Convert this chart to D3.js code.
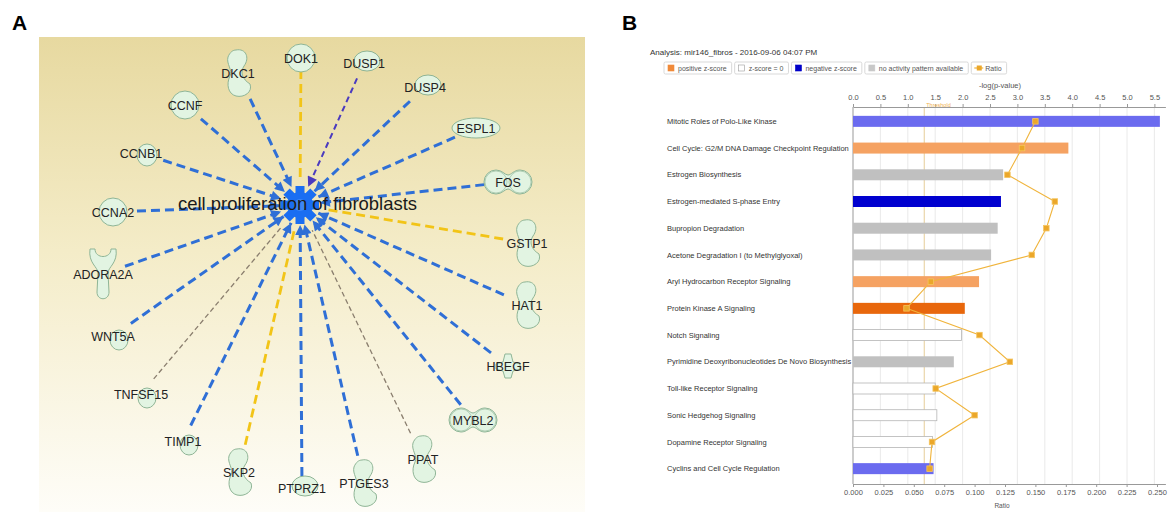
<!DOCTYPE html>
<html><head><meta charset="utf-8">
<script src="https://cdn.jsdelivr.net/npm/d3@7"></script>
<style>
body{margin:0;background:#fff;}
svg{display:block;font-family:"Liberation Sans",Arial,sans-serif;}
</style>
</head><body>
<svg id="c" width="1174" height="520"></svg>
<script>
// ---------------- Panel A data (network) ----------------
const genes = ["DKC1","DOK1","DUSP1","DUSP4","CCNF","ESPL1","CCNB1","FOS","CCNA2","GSTP1","ADORA2A",
               "HAT1","WNT5A","HBEGF","TNFSF15","MYBL2","TIMP1","SKP2","PPAT","PTPRZ1","PTGES3"];
const geneType = ["enzyme","other","phosphatase","phosphatase","other","peptidase","kinase","transcription","other","enzyme","gpcr",
                  "enzyme","cytokine","growth","cytokine","transcription","cytokine","enzyme","enzyme","phosphatase","enzyme"];
const relation = ["inhibition","inconsistent","mixed","inhibition","inhibition","inhibition","inhibition","inhibition","inhibition","inconsistent","inhibition",
                  "inhibition","inhibition","inhibition","notPredicted","inhibition","inhibition","inconsistent","notPredicted","inhibition","inhibition"];
const centralFunction = "cell proliferation of fibroblasts";
// layout table for the radial network (label offsets from the hub)
const layout = [[-62,-132],[1,-147],[64,-142],[125,-118],[-115,-100],[176,-77],[-159,-52],[208,-23],[-187,7],[227,38],[-197,69],
                [227,100],[-187,131],[208,161],[-159,189],[173,215],[-117,236],[-61,267],[123,254],[2,283],[64,278]];

// ---------------- Panel B data (canonical pathways) ----------------
const pathways = ["Mitotic Roles of Polo-Like Kinase","Cell Cycle: G2/M DNA Damage Checkpoint Regulation","Estrogen Biosynthesis",
  "Estrogen-mediated S-phase Entry","Bupropion Degradation","Acetone Degradation I (to Methylglyoxal)","Aryl Hydrocarbon Receptor Signaling",
  "Protein Kinase A Signaling","Notch Signaling","Pyrimidine Deoxyribonucleotides De Novo Biosynthesis I","Toll-like Receptor Signaling",
  "Sonic Hedgehog Signaling","Dopamine Receptor Signaling","Cyclins and Cell Cycle Regulation"];
const negLogP = [5.60,3.93,2.74,2.70,2.64,2.52,2.30,2.04,1.98,1.84,1.50,1.53,1.45,1.47];
const ratio   = [0.150,0.139,0.127,0.166,0.159,0.147,0.064,0.044,0.104,0.129,0.068,0.100,0.065,0.063];
const zScore  = [-1.0,1.0,null,-2.4,null,null,0.8,2.2,0,null,0,0,0,-1.0];
const pTicks = [0,0.5,1,1.5,2,2.5,3,3.5,4,4.5,5,5.5];
const rTicks = [0,0.025,0.05,0.075,0.1,0.125,0.15,0.175,0.2,0.225,0.25];
const threshold = 1.3;
const legendLabels = ["positive z-score","z-score = 0","negative z-score","no activity pattern available","Ratio"];
const analysisTitle = "Analysis: mir146_fibros - 2016-09-06 04:07 PM";

const svg = d3.select("#c");
const defs = svg.append("defs");

// panel letters
svg.append("text").attr("x",12).attr("y",30).attr("font-size",21).attr("font-weight","bold").attr("fill","#000").text("A");
svg.append("text").attr("x",622).attr("y",30).attr("font-size",21).attr("font-weight","bold").attr("fill","#000").text("B");

// ================= PANEL A =================
const grad = defs.append("linearGradient").attr("id","bg").attr("x1",0).attr("y1",0).attr("x2",0).attr("y2",1);
grad.append("stop").attr("offset",0).attr("stop-color","#e7d9a0");
grad.append("stop").attr("offset",0.45).attr("stop-color","#f4ecc8");
grad.append("stop").attr("offset",1).attr("stop-color","#fefdf8");
const gA = svg.append("g");
gA.append("rect").attr("x",39).attr("y",37).attr("width",546).attr("height",475).attr("fill","url(#bg)");

const relColor = {inhibition:"#2f6fd6", inconsistent:"#f2c417", notPredicted:"#8a7e6e", mixed:"#4a3abf"};
const relWidth = {inhibition:3, inconsistent:2.8, notPredicted:1.3, mixed:2};
const relDash  = {inhibition:"9,5", inconsistent:"9,5", notPredicted:"5,3", mixed:"6,4"};
function mkMarker(id,color){
  defs.append("marker").attr("id",id).attr("viewBox","0 0 10 10").attr("refX",10).attr("refY",5)
    .attr("markerWidth",11).attr("markerHeight",10).attr("markerUnits","userSpaceOnUse").attr("orient","auto")
    .append("path").attr("d","M0,0L10,5L0,10Z").attr("fill",color);
}
mkMarker("arBlue",relColor.inhibition);
mkMarker("arPurple",relColor.mixed);

const hubX = d3.scaleLinear().domain([-300,300]).range([0,600]);
const hubY = d3.scaleLinear().domain([-300,300]).range([-95,505]);
const nodes = genes.map((g,i)=>{
  const dx = layout[i][0], dy = layout[i][1];
  const len = Math.hypot(dx,dy), c = Math.abs(dx/len), s = Math.abs(dy/len);
  const d = 12 + 12*c + (geneType[i]==="enzyme" ? 14*s*s : 0);
  const endR = relation[i]==="notPredicted" ? 28 : (relation[i]==="inconsistent" ? 24 : 20);
  return {name:g, type:geneType[i], rel:relation[i],
    x:hubX(dx), y:hubY(dy),
    sx:hubX(dx - dx/len*d), sy:hubY(dy - dy/len*d),
    ex:hubX(dx/len*endR), ey:hubY(dy/len*endR)};
});
const hx = hubX(0), hy = hubY(0);

// edges
gA.append("g").selectAll("line").data(nodes).join("line")
  .attr("x1",d=>d.sx).attr("y1",d=>d.sy).attr("x2",d=>d.ex).attr("y2",d=>d.ey)
  .attr("stroke",d=>relColor[d.rel]).attr("stroke-width",d=>relWidth[d.rel])
  .attr("stroke-dasharray",d=>relDash[d.rel])
  .attr("marker-end",d=>d.rel==="inhibition"?"url(#arBlue)":(d.rel==="mixed"?"url(#arPurple)":null));

// hub gear
const hub = gA.append("g").attr("transform",`translate(${hx},${hy})`);
hub.selectAll("rect").data(d3.range(8)).join("rect")
  .attr("x",-4.5).attr("y",-19).attr("width",9).attr("height",9)
  .attr("transform",d=>`rotate(${d*45})`).attr("fill","#1a6ef2");
hub.append("circle").attr("r",13).attr("fill","#1a6ef2");
hub.append("circle").attr("r",6).attr("fill","#3d86f5");

// node shapes
const nodeFill = "#e2f4e2", nodeStroke = "#8fb596";
const shapePath = {
  enzyme:"M-2,-23C8,-25 12,-15 6,-7C2,-1 4,6 12,11C15,19 6,25 -2,23C-10,21 -12,11 -8,3C-5,-3 -12,-9 -10,-16C-8,-21 -5,-23 -2,-23Z",
  gpcr:"M-13,-25C-15,-11 -5,-7 -5,-1L-6,18C-6,27 6,27 6,18L5,-1C5,-7 15,-11 13,-25L8,-25C8,-15 -8,-15 -8,-25Z"
};
const gN = gA.append("g");
nodes.forEach(n=>{
  const g = gN.append("g").attr("transform",`translate(${n.x},${n.y})`)
    .attr("fill",nodeFill).attr("stroke",nodeStroke).attr("stroke-width",1);
  switch(n.type){
    case "enzyme": g.append("path").attr("d",shapePath.enzyme); break;
    case "gpcr": g.append("path").attr("d",shapePath.gpcr); break;
    case "other": g.append("circle").attr("r",14); break;
    case "transcription":
      g.append("path").attr("d","M-12,-12A12,12 0 1,0 -12,12C-6,12 -3,7 0,7C3,7 6,12 12,12A12,12 0 1,0 12,-12C6,-12 3,-7 0,-7C-3,-7 -6,-12 -12,-12Z");
      g.append("circle").attr("cx",-12).attr("r",11).attr("fill","none").attr("stroke-opacity",0.6);
      g.append("circle").attr("cx",12).attr("r",11).attr("fill","none").attr("stroke-opacity",0.6);
      break;
    case "peptidase": g.append("ellipse").attr("rx",24).attr("ry",10); break;
    case "phosphatase": g.append("ellipse").attr("cx",3).attr("cy",-2).attr("rx",13).attr("ry",10); break;
    case "kinase": g.append("ellipse").attr("cx",6).attr("cy",2).attr("rx",10).attr("ry",11); break;
    case "cytokine": g.append("ellipse").attr("cx",6).attr("cy",4).attr("rx",9).attr("ry",10); break;
    case "growth": g.append("path").attr("d","M-3,-12L3,-12L5,-4L12,-2L12,3L5,5L3,12L-3,12L-5,5L-12,3L-12,-2L-5,-4Z"); break;
  }
});
// node labels
gA.append("g").selectAll("text").data(nodes).join("text")
  .attr("x",d=>d.x).attr("y",d=>d.y).attr("dy","0.36em").attr("text-anchor","middle")
  .attr("font-size",12.5).attr("fill","#222").text(d=>d.name);
// central label
gA.append("text").attr("x",hx-2.5).attr("y",hy-2).attr("dy","0.36em").attr("text-anchor","middle")
  .attr("font-size",18.5).attr("fill","#1a1a1a").attr("textLength",239).attr("lengthAdjust","spacingAndGlyphs")
  .text(centralFunction);

// ================= PANEL B =================
const gB = svg.append("g");
const plotL = 853, plotR = 1165.4, plotT = 107, plotB = 484;
const xP = d3.scaleLinear().domain([0,(plotR-plotL)/54.8]).range([plotL,plotR]);
const xR = d3.scaleLinear().domain([0,(plotR-plotL)/1216]).range([plotL,plotR]);
const yB = d3.scaleBand().domain(pathways).range([108,482]);
const zColor = z => z===null ? "#c0c0c0" : d3.scaleThreshold().domain([-2,-0.001,0.001,2]).range(["#0000cf","#6b6bef","#ffffff","#f5a262","#e8670c"])(z);

gB.append("text").attr("x",650).attr("y",55).attr("font-size",8).attr("fill","#333").text(analysisTitle);

// legend
const legG = gB.append("g").attr("font-size",7).attr("fill","#555");
let lx = 664;
legendLabels.forEach((lab,i)=>{
  const item = legG.append("g");
  const t = item.append("text").attr("x",lx+14).attr("y",71).text(lab);
  const w = t.node().getComputedTextLength() + 19;
  item.insert("rect","text").attr("x",lx).attr("y",62).attr("width",w).attr("height",12).attr("rx",1.5)
    .attr("fill","#fff").attr("stroke","#cfcfcf").attr("stroke-width",0.8);
  if(i<4){
    const col = ["#f08a3a","#ffffff","#0000c8","#c8c8c8"][i];
    item.append("rect").attr("x",lx+4).attr("y",65).attr("width",6).attr("height",6)
      .attr("fill",col).attr("stroke",i===1?"#999":col).attr("stroke-width",0.6);
  } else {
    item.append("line").attr("x1",lx+3).attr("x2",lx+12).attr("y1",68).attr("y2",68).attr("stroke","#f0b43c").attr("stroke-width",1.2);
    item.append("rect").attr("x",lx+5.5).attr("y",65.5).attr("width",5).attr("height",5).attr("fill","#eba72a");
  }
  lx += w + 3;
});

// gridlines
gB.append("g").selectAll("line").data(pTicks.filter(d=>d>0)).join("line")
  .attr("x1",d=>xP(d)).attr("x2",d=>xP(d)).attr("y1",plotT).attr("y2",plotB)
  .attr("stroke","#e4e4e4").attr("stroke-width",0.8);
gB.append("line").attr("x1",xP(threshold)).attr("x2",xP(threshold)).attr("y1",plotT).attr("y2",plotB)
  .attr("stroke","#e6cd98").attr("stroke-width",1);

// top axis
const axT = gB.append("g").attr("transform",`translate(0,${plotT})`)
  .call(d3.axisTop(xP).tickValues(pTicks).tickFormat(d3.format(".1f")).tickSize(3).tickPadding(4).tickSizeOuter(0));
axT.select(".domain").attr("stroke","#999");
axT.selectAll(".tick line").attr("stroke","#999");
axT.selectAll("text").attr("font-size",7.5).attr("fill","#555").attr("font-family","Liberation Sans, Arial, sans-serif");
gB.append("text").attr("x",1000).attr("y",88).attr("text-anchor","middle").attr("font-size",7.5).attr("fill","#555").text("-log(p-value)");
gB.append("text").attr("x",xP(threshold)+2).attr("y",106.5).attr("font-size",5.5).attr("fill","#f0b050").text("Threshold");

// bottom axis
const axB = gB.append("g").attr("transform",`translate(0,${plotB})`)
  .call(d3.axisBottom(xR).tickValues(rTicks).tickFormat(d3.format(".3f")).tickSize(3).tickSizeOuter(0));
axB.select(".domain").attr("stroke","#999");
axB.selectAll(".tick line").attr("stroke","#999");
axB.selectAll("text").attr("font-size",7.5).attr("fill","#555").attr("font-family","Liberation Sans, Arial, sans-serif");
gB.append("text").attr("x",1002).attr("y",508).attr("text-anchor","middle").attr("font-size",6.5).attr("fill","#555").text("Ratio");
// left axis line
gB.append("line").attr("x1",plotL).attr("x2",plotL).attr("y1",plotT).attr("y2",plotB).attr("stroke","#999");

// row labels
gB.append("g").selectAll("text").data(pathways).join("text")
  .attr("x",667).attr("y",d=>yB(d)+yB.bandwidth()/2).attr("dy","0.35em")
  .attr("font-size",7.5).attr("fill","#333").text(d=>d);

// bars
const barH = 11;
gB.append("g").selectAll("rect").data(pathways).join("rect")
  .attr("x",plotL).attr("y",d=>yB(d)+yB.bandwidth()/2-barH/2)
  .attr("width",(d,i)=>xP(negLogP[i])-plotL).attr("height",barH)
  .attr("fill",(d,i)=>zColor(zScore[i]))
  .attr("stroke",(d,i)=>zScore[i]===0?"#b5b5b5":"none").attr("stroke-width",0.8);

// ratio line + markers
const pts = pathways.map((p,i)=>({x:xR(ratio[i]), y:yB(p)+yB.bandwidth()/2}));
gB.append("path").datum(pts).attr("d",d3.line().x(d=>d.x).y(d=>d.y))
  .attr("fill","none").attr("stroke","#f0b43c").attr("stroke-width",1.1);
gB.append("g").selectAll("rect").data(pts).join("rect")
  .attr("x",d=>d.x-2.75).attr("y",d=>d.y-2.75).attr("width",5.5).attr("height",5.5)
  .attr("fill","#eba72a").attr("stroke","#f5c560").attr("stroke-width",0.8);
</script>
</body></html>
